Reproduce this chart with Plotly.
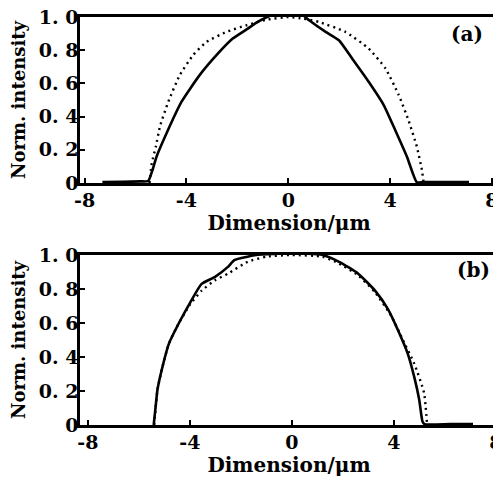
import plotly.graph_objects as go
from plotly.subplots import make_subplots

# Panel (a)
a_solid_x = [-7.3, -6.5, -5.8, -5.5, -5.35, -5.17, -4.78, -4.19, -3.48, -2.82, -2.18, -1.59, -1.2, -0.9,
             -0.5, 0.0, 0.5, 0.82, 1.47, 1.99, 2.51, 3.16, 3.75, 4.2, 4.66, 5.05, 5.3, 6.2, 7.1]
a_solid_y = [0.006, 0.008, 0.01, 0.012, 0.07, 0.16, 0.30, 0.49, 0.65, 0.77, 0.87, 0.93, 0.97, 0.995,
             1.02, 1.02, 1.02, 0.98, 0.91, 0.86, 0.75, 0.61, 0.47, 0.32, 0.16, 0.005, 0.006, 0.006, 0.006]
a_dot_x = [-5.45, -5.36, -5.2, -5.04, -4.71, -4.26, -3.74, -3.21, -2.43, -1.65, -0.8, 0.0, 0.6,
           1.21, 2.25, 3.16, 3.82, 4.34, 4.73, 5.05, 5.25, 5.32]
a_dot_y = [0.0, 0.12, 0.22, 0.34, 0.49, 0.65, 0.77, 0.85, 0.91, 0.95, 0.985, 1.0, 0.99,
           0.97, 0.91, 0.81, 0.69, 0.53, 0.375, 0.22, 0.08, 0.0]

# Panel (b)
b_solid_x = [-5.42, -5.35, -5.27, -5.08, -4.82, -4.43, -3.99, -3.54, -3.03, -2.51, -2.26, -1.74, -1.4,
             0.0, 1.2, 1.85, 2.6, 3.26, 3.77, 4.15, 4.54, 4.8, 4.99, 5.12, 5.2, 6.2, 7.1]
b_solid_y = [0.0, 0.1, 0.21, 0.34, 0.48, 0.60, 0.72, 0.83, 0.87, 0.93, 0.97, 0.99, 1.0,
             1.01, 1.0, 0.96, 0.89, 0.79, 0.68, 0.56, 0.42, 0.28, 0.15, 0.02, 0.005, 0.005, 0.005]
b_dot_x = [-5.4, -5.27, -5.08, -4.82, -4.43, -3.99, -3.54, -3.03, -2.51, -1.74, -1.0, 0.0, 1.2,
           1.85, 2.6, 3.26, 3.9, 4.35, 4.8, 5.18, 5.3]
b_dot_y = [0.0, 0.21, 0.34, 0.48, 0.60, 0.71, 0.79, 0.85, 0.89, 0.96, 0.99, 1.0, 0.99,
           0.95, 0.88, 0.78, 0.64, 0.5, 0.36, 0.19, 0.0]

x_ticks = [-8, -4, 0, 4, 8]
x_tick_labels = ["-8", "-4", "0", "4", "8"]
y_ticks = [0, 0.2, 0.4, 0.6, 0.8, 1.0]
y_tick_labels = ["0", "0. 2", "0. 4", "0. 6", "0. 8", "1. 0"]
panel_labels = ["(a)", "(b)"]
x_title = "Dimension/μm"
y_title = "Norm. intensity"

FONT = "DejaVu Serif"

fig = make_subplots(rows=2, cols=1)

line_solid = dict(color="black", width=2.6, shape="spline", smoothing=0.5)
line_dot = dict(color="black", width=2.4, dash="2px,4px", shape="spline", smoothing=0.5)

fig.add_trace(go.Scatter(x=a_solid_x, y=a_solid_y, mode="lines", line=line_solid, showlegend=False), row=1, col=1)
fig.add_trace(go.Scatter(x=a_dot_x, y=a_dot_y, mode="lines", line=line_dot, showlegend=False), row=1, col=1)
fig.add_trace(go.Scatter(x=b_solid_x, y=b_solid_y, mode="lines", line=line_solid, showlegend=False), row=2, col=1)
fig.add_trace(go.Scatter(x=b_dot_x, y=b_dot_y, mode="lines", line=line_dot, showlegend=False), row=2, col=1)

axis_common = dict(showline=True, linecolor="black", linewidth=2.6, mirror=True,
                   ticks="inside", ticklen=5, tickwidth=2, tickcolor="black",
                   showgrid=False, zeroline=False, automargin=False,
                   ticklabeloverflow="allow",
                   tickfont=dict(family=FONT, size=19, color="black", weight="bold"))

fig.update_xaxes(**axis_common, tickvals=x_ticks, ticktext=x_tick_labels, ticklabelstandoff=-2,
                 title=dict(text=x_title, font=dict(family=FONT, size=20, color="black", weight="bold"), standoff=2))
fig.update_yaxes(**axis_common, tickvals=y_ticks, ticktext=y_tick_labels, range=[0, 1.0],
                 ticklabelstandoff=-5,
                 title=dict(text=y_title, font=dict(family=FONT, size=18, color="black", weight="bold"), standoff=12))

fig.update_layout(
    xaxis=dict(domain=[0, 1], range=[-8.18, 8.24]),
    xaxis2=dict(domain=[0, 1], range=[-8.31, 8.08]),
    yaxis=dict(domain=[0.593, 1.0]),
    yaxis2=dict(domain=[0.0, 0.4167]),
    width=493, height=473,
    margin=dict(l=72, r=3, t=9, b=56),
    paper_bgcolor="white", plot_bgcolor="white",
)

fig.add_annotation(text=panel_labels[0], xref="x domain", yref="y domain", x=0.969, y=0.9,
                   xanchor="right", yanchor="middle", showarrow=False,
                   font=dict(family=FONT, size=20, color="black", weight="bold"))
fig.add_annotation(text=panel_labels[1], xref="x2 domain", yref="y2 domain", x=0.986, y=0.91,
                   xanchor="right", yanchor="middle", showarrow=False,
                   font=dict(family=FONT, size=20, color="black", weight="bold"))

fig.write_html("out.html")
